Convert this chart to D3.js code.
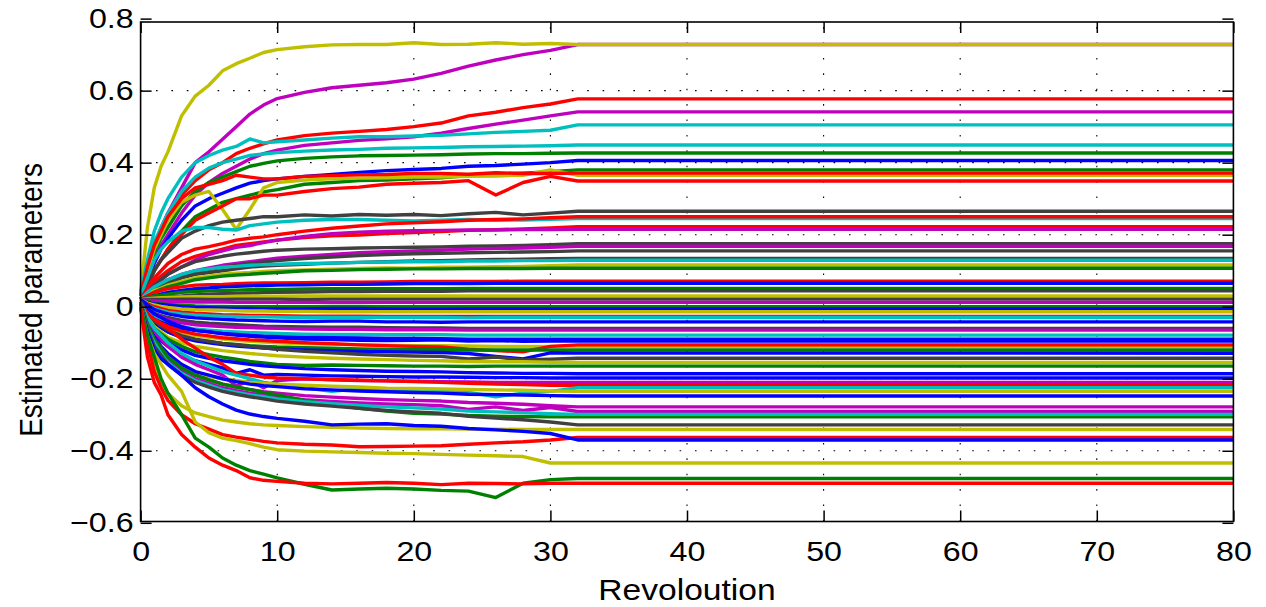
<!DOCTYPE html>
<html>
<head>
<meta charset="utf-8">
<script src="https://cdn.jsdelivr.net/npm/d3@7"></script>
<style>
  body { margin: 0; background: #fff; }
  svg text { font-family: "Liberation Sans", Arial, Helvetica, sans-serif; fill: #000; }
</style>
</head>
<body>
<svg id="chart" width="1266" height="607"></svg>
<script>
// Revolutions at which every estimate is recorded
const revolutions = [0, 0.5, 1, 1.5, 2, 3, 4, 5, 6, 7, 8, 9, 10, 12, 14, 16, 18, 20, 22, 24, 26, 28, 30, 32, 80];

// Axis limits and tick labels
const xLim = [0, 80];
const yLim = [-0.5964, 0.7906];
const xTicks = [0, 10, 20, 30, 40, 50, 60, 70, 80];
const yTicks = [-0.6, -0.4, -0.2, 0, 0.2, 0.4, 0.6, 0.8];

// MATLAB-style colour codes
const colorCodes = ["b", "g", "r", "c", "m", "y", "k"];
const colorValues = ["#0000ff", "#008000", "#ff0000", "#00bfbf", "#bf00bf", "#bfbf00", "#404040"];

// Estimated parameter trajectories (one array per parameter)
const p01 = [0.03,0.10,0.17,0.22,0.26,0.33,0.40,0.43,0.465,0.50,0.535,0.56,0.578,0.595,0.608,0.615,0.622,0.632,0.648,0.668,0.685,0.70,0.712,0.728,0.728];
const p02 = [0.04,0.22,0.33,0.39,0.43,0.53,0.585,0.615,0.655,0.675,0.69,0.706,0.714,0.722,0.727,0.728,0.728,0.733,0.728,0.729,0.733,0.729,0.731,0.728,0.728];
const p03 = [0.03,0.10,0.16,0.21,0.25,0.31,0.35,0.38,0.40,0.425,0.44,0.452,0.463,0.475,0.482,0.487,0.492,0.50,0.51,0.53,0.54,0.553,0.563,0.577,0.577];
const p04 = [0.03,0.08,0.13,0.17,0.20,0.26,0.31,0.345,0.37,0.39,0.41,0.425,0.435,0.448,0.455,0.462,0.466,0.472,0.482,0.495,0.507,0.518,0.53,0.541,0.541];
const p05 = [0.04,0.13,0.21,0.26,0.30,0.36,0.40,0.42,0.435,0.445,0.466,0.455,0.458,0.463,0.468,0.472,0.472,0.474,0.476,0.48,0.484,0.487,0.49,0.505,0.505];
const p06 = [0.03,0.11,0.18,0.22,0.26,0.32,0.36,0.385,0.40,0.41,0.42,0.424,0.428,0.432,0.435,0.437,0.44,0.441,0.442,0.444,0.445,0.446,0.447,0.449,0.449];
const p07 = [0.03,0.09,0.15,0.19,0.22,0.28,0.32,0.345,0.36,0.375,0.39,0.398,0.405,0.412,0.416,0.419,0.42,0.421,0.422,0.424,0.425,0.425,0.426,0.427,0.427];
const p08 = [0.03,0.07,0.12,0.16,0.19,0.24,0.28,0.30,0.315,0.33,0.343,0.35,0.355,0.362,0.367,0.373,0.378,0.381,0.384,0.39,0.392,0.396,0.40,0.406,0.406];
const p09 = [0.02,0.06,0.10,0.13,0.16,0.21,0.25,0.27,0.29,0.30,0.31,0.319,0.325,0.34,0.345,0.35,0.352,0.355,0.358,0.364,0.367,0.371,0.375,0.38,0.38];
const p10 = [0.03,0.10,0.16,0.20,0.24,0.29,0.31,0.32,0.27,0.215,0.27,0.33,0.345,0.352,0.355,0.357,0.358,0.36,0.36,0.362,0.363,0.365,0.38,0.365,0.365];
const p11 = [0.03,0.11,0.17,0.21,0.25,0.30,0.33,0.34,0.35,0.365,0.36,0.355,0.355,0.362,0.364,0.366,0.367,0.37,0.37,0.368,0.372,0.37,0.37,0.371,0.371];
const p12 = [0.02,0.06,0.10,0.13,0.16,0.20,0.24,0.26,0.28,0.30,0.30,0.31,0.31,0.32,0.328,0.332,0.34,0.343,0.345,0.35,0.31,0.345,0.362,0.349,0.349];
const p13 = [0.02,0.06,0.10,0.13,0.15,0.19,0.21,0.225,0.235,0.24,0.245,0.25,0.25,0.255,0.252,0.256,0.254,0.256,0.253,0.258,0.262,0.255,0.26,0.265,0.265];
const p14 = [0.03,0.08,0.13,0.16,0.18,0.21,0.22,0.22,0.215,0.213,0.225,0.23,0.235,0.24,0.242,0.242,0.24,0.238,0.24,0.242,0.24,0.241,0.243,0.245,0.245];
const p15 = [0.02,0.05,0.08,0.10,0.12,0.145,0.16,0.167,0.175,0.185,0.19,0.194,0.20,0.21,0.218,0.224,0.23,0.233,0.236,0.24,0.242,0.244,0.247,0.25,0.25];
const p16 = [0.02,0.05,0.07,0.085,0.10,0.125,0.14,0.15,0.16,0.17,0.175,0.18,0.185,0.192,0.197,0.199,0.203,0.206,0.209,0.212,0.214,0.216,0.219,0.222,0.222];
const p17 = [0.02,0.04,0.06,0.075,0.09,0.11,0.13,0.145,0.155,0.165,0.17,0.178,0.185,0.195,0.203,0.207,0.21,0.211,0.212,0.213,0.213,0.214,0.214,0.215,0.215];
const p18 = [0.02,0.04,0.06,0.075,0.09,0.11,0.125,0.133,0.14,0.146,0.15,0.154,0.157,0.16,0.161,0.163,0.164,0.165,0.166,0.168,0.169,0.17,0.172,0.175,0.175];
const p19 = [0.02,0.04,0.055,0.065,0.075,0.09,0.10,0.108,0.115,0.12,0.125,0.13,0.135,0.14,0.145,0.15,0.153,0.155,0.157,0.16,0.162,0.163,0.165,0.168,0.168];
const p20 = [0.02,0.035,0.05,0.06,0.07,0.085,0.095,0.103,0.11,0.115,0.12,0.124,0.128,0.134,0.138,0.142,0.145,0.147,0.148,0.15,0.151,0.152,0.153,0.155,0.155];
const p21 = [0.02,0.035,0.05,0.058,0.065,0.08,0.09,0.095,0.10,0.105,0.11,0.113,0.115,0.118,0.121,0.123,0.125,0.127,0.128,0.13,0.131,0.132,0.133,0.134,0.134];
const p22 = [0.02,0.04,0.055,0.065,0.075,0.09,0.10,0.105,0.11,0.112,0.115,0.117,0.118,0.12,0.121,0.123,0.124,0.125,0.125,0.127,0.127,0.128,0.128,0.129,0.129];
const p23 = [0.02,0.03,0.045,0.052,0.06,0.07,0.08,0.085,0.09,0.093,0.095,0.098,0.10,0.102,0.104,0.106,0.108,0.107,0.11,0.11,0.111,0.112,0.114,0.116,0.116];
const p24 = [0.02,0.03,0.04,0.048,0.055,0.065,0.075,0.08,0.085,0.088,0.09,0.093,0.095,0.10,0.101,0.103,0.104,0.105,0.105,0.106,0.106,0.106,0.107,0.107,0.107];
const p25 = [0.02,0.03,0.04,0.045,0.05,0.055,0.06,0.061,0.062,0.064,0.065,0.066,0.066,0.067,0.068,0.068,0.069,0.07,0.07,0.07,0.07,0.071,0.071,0.071,0.071];
const p26 = [0.02,0.025,0.03,0.035,0.04,0.045,0.05,0.052,0.055,0.057,0.058,0.059,0.06,0.061,0.062,0.062,0.063,0.064,0.064,0.064,0.065,0.065,0.065,0.065,0.065];
const p27 = [0.02,0.025,0.03,0.032,0.035,0.04,0.042,0.044,0.045,0.046,0.047,0.048,0.048,0.049,0.05,0.05,0.05,0.05,0.05,0.051,0.051,0.051,0.051,0.051,0.051];
const p28 = [0.02,0.022,0.025,0.027,0.028,0.03,0.033,0.035,0.036,0.037,0.038,0.039,0.04,0.041,0.042,0.042,0.043,0.043,0.043,0.044,0.044,0.044,0.044,0.044,0.044];
const p29 = [0.02,0.022,0.024,0.025,0.026,0.027,0.028,0.028,0.028,0.029,0.029,0.029,0.029,0.03,0.03,0.03,0.03,0.03,0.03,0.03,0.03,0.03,0.03,0.03,0.03];
const p30 = [0.02,0.02,0.02,0.02,0.02,0.021,0.021,0.02,0.02,0.021,0.021,0.021,0.021,0.02,0.021,0.021,0.021,0.021,0.021,0.021,0.021,0.021,0.021,0.021,0.021];
const p31 = [0.02,0.018,0.016,0.015,0.015,0.014,0.013,0.013,0.013,0.012,0.012,0.012,0.012,0.012,0.012,0.012,0.012,0.012,0.012,0.012,0.012,0.012,0.012,0.012,0.012];
const p32 = [0.02,0.015,0.01,0.008,0.006,0.004,0.002,0.001,0.001,0.0,0.0,0.0,0.0,0.0,0.001,0.001,0.0,0.0,0.0,0.0,0.0,0.0,0.0,0.0,0.0];
const p33 = [0.02,0.012,0.008,0.006,0.004,0.0,-0.002,-0.003,-0.004,-0.005,-0.005,-0.006,-0.006,-0.006,-0.005,-0.005,-0.006,-0.007,-0.007,-0.006,-0.006,-0.006,-0.006,-0.006,-0.006];
const p34 = [0.02,0.01,0.005,0.001,-0.002,-0.006,-0.008,-0.009,-0.01,-0.011,-0.012,-0.012,-0.013,-0.013,-0.014,-0.014,-0.014,-0.014,-0.014,-0.014,-0.014,-0.014,-0.014,-0.014,-0.014];
const p35 = [0.02,0.008,0.0,-0.005,-0.01,-0.015,-0.018,-0.02,-0.022,-0.023,-0.024,-0.024,-0.025,-0.026,-0.026,-0.026,-0.027,-0.027,-0.027,-0.027,-0.027,-0.027,-0.027,-0.027,-0.027];
const p36 = [0.02,0.005,-0.005,-0.01,-0.015,-0.02,-0.023,-0.025,-0.026,-0.027,-0.028,-0.028,-0.029,-0.03,-0.03,-0.03,-0.03,-0.03,-0.03,-0.031,-0.03,-0.03,-0.03,-0.03,-0.03];
const p37 = [0.02,0.005,-0.008,-0.014,-0.02,-0.027,-0.031,-0.033,-0.035,-0.037,-0.038,-0.039,-0.04,-0.041,-0.04,-0.04,-0.042,-0.042,-0.043,-0.042,-0.042,-0.042,-0.042,-0.042,-0.042];
const p38 = [0.015,-0.005,-0.018,-0.025,-0.03,-0.038,-0.043,-0.046,-0.048,-0.05,-0.052,-0.054,-0.055,-0.056,-0.057,-0.057,-0.058,-0.059,-0.059,-0.06,-0.06,-0.06,-0.06,-0.06,-0.06];
const p39 = [0.01,-0.01,-0.02,-0.028,-0.035,-0.045,-0.05,-0.053,-0.055,-0.057,-0.058,-0.059,-0.06,-0.062,-0.063,-0.063,-0.064,-0.064,-0.064,-0.065,-0.065,-0.065,-0.065,-0.065,-0.065];
const p40 = [0.01,-0.015,-0.03,-0.038,-0.045,-0.055,-0.062,-0.065,-0.068,-0.07,-0.072,-0.073,-0.074,-0.076,-0.077,-0.077,-0.078,-0.078,-0.078,-0.079,-0.079,-0.079,-0.079,-0.079,-0.079];
const p41 = [0.01,-0.02,-0.035,-0.043,-0.05,-0.06,-0.066,-0.07,-0.074,-0.077,-0.08,-0.082,-0.083,-0.085,-0.086,-0.087,-0.088,-0.088,-0.089,-0.09,-0.09,-0.09,-0.09,-0.09,-0.09];
const p42 = [0.015,-0.005,-0.02,-0.03,-0.04,-0.055,-0.065,-0.07,-0.075,-0.079,-0.082,-0.084,-0.086,-0.09,-0.091,-0.093,-0.094,-0.093,-0.092,-0.095,-0.094,-0.096,-0.095,-0.095,-0.095];
const p43 = [0.01,-0.02,-0.04,-0.05,-0.06,-0.072,-0.08,-0.085,-0.09,-0.093,-0.096,-0.098,-0.10,-0.103,-0.104,-0.106,-0.107,-0.108,-0.108,-0.109,-0.11,-0.11,-0.11,-0.11,-0.11];
const p44 = [0.01,-0.02,-0.035,-0.045,-0.055,-0.068,-0.076,-0.081,-0.086,-0.089,-0.092,-0.094,-0.096,-0.10,-0.103,-0.106,-0.108,-0.11,-0.112,-0.118,-0.122,-0.125,-0.11,-0.106,-0.106];
const p45 = [0.01,-0.025,-0.045,-0.058,-0.07,-0.085,-0.093,-0.098,-0.102,-0.105,-0.108,-0.11,-0.112,-0.114,-0.115,-0.117,-0.118,-0.118,-0.119,-0.12,-0.12,-0.12,-0.12,-0.12,-0.12];
const p46 = [0.01,-0.025,-0.045,-0.058,-0.07,-0.085,-0.095,-0.10,-0.105,-0.109,-0.112,-0.115,-0.117,-0.12,-0.122,-0.124,-0.125,-0.126,-0.127,-0.13,-0.138,-0.145,-0.128,-0.129,-0.129];
const p47 = [0.015,-0.02,-0.04,-0.053,-0.065,-0.08,-0.09,-0.096,-0.102,-0.106,-0.11,-0.114,-0.118,-0.124,-0.128,-0.132,-0.135,-0.137,-0.138,-0.145,-0.14,-0.148,-0.146,-0.143,-0.143];
const p48 = [0.01,-0.03,-0.055,-0.07,-0.085,-0.10,-0.11,-0.116,-0.122,-0.126,-0.13,-0.133,-0.136,-0.14,-0.143,-0.145,-0.147,-0.149,-0.15,-0.152,-0.153,-0.153,-0.154,-0.155,-0.155];
const p49 = [0.01,-0.035,-0.06,-0.075,-0.09,-0.11,-0.125,-0.133,-0.14,-0.146,-0.152,-0.156,-0.16,-0.163,-0.162,-0.163,-0.164,-0.165,-0.165,-0.166,-0.165,-0.165,-0.165,-0.165,-0.165];
const p50 = [0.01,-0.04,-0.07,-0.085,-0.10,-0.12,-0.135,-0.143,-0.15,-0.155,-0.16,-0.164,-0.167,-0.172,-0.175,-0.177,-0.179,-0.18,-0.181,-0.183,-0.184,-0.185,-0.185,-0.186,-0.186];
const p51 = [0.01,-0.04,-0.075,-0.095,-0.11,-0.135,-0.15,-0.16,-0.17,-0.185,-0.175,-0.19,-0.188,-0.19,-0.192,-0.193,-0.194,-0.195,-0.195,-0.196,-0.197,-0.197,-0.198,-0.198,-0.198];
const p52 = [0.01,-0.04,-0.07,-0.09,-0.11,-0.14,-0.16,-0.175,-0.19,-0.22,-0.205,-0.225,-0.205,-0.20,-0.203,-0.205,-0.206,-0.207,-0.208,-0.209,-0.21,-0.21,-0.21,-0.21,-0.21];
const p53 = [0.01,-0.02,-0.035,-0.048,-0.06,-0.09,-0.115,-0.14,-0.16,-0.185,-0.19,-0.195,-0.198,-0.20,-0.202,-0.204,-0.206,-0.208,-0.21,-0.213,-0.215,-0.216,-0.218,-0.219,-0.219];
const p54 = [0.01,-0.03,-0.06,-0.08,-0.10,-0.13,-0.15,-0.165,-0.18,-0.19,-0.20,-0.21,-0.215,-0.225,-0.235,-0.228,-0.232,-0.235,-0.234,-0.238,-0.25,-0.24,-0.235,-0.225,-0.225];
const p55 = [0.01,-0.05,-0.09,-0.115,-0.14,-0.17,-0.185,-0.193,-0.20,-0.205,-0.21,-0.213,-0.215,-0.218,-0.221,-0.223,-0.226,-0.227,-0.228,-0.23,-0.231,-0.232,-0.234,-0.235,-0.235];
const p56 = [0.01,-0.05,-0.085,-0.11,-0.13,-0.16,-0.18,-0.19,-0.20,-0.208,-0.215,-0.219,-0.222,-0.228,-0.231,-0.234,-0.236,-0.238,-0.24,-0.243,-0.244,-0.245,-0.247,-0.248,-0.248];
const p57 = [0.01,-0.05,-0.09,-0.115,-0.14,-0.17,-0.19,-0.203,-0.215,-0.223,-0.23,-0.236,-0.24,-0.247,-0.251,-0.255,-0.258,-0.26,-0.262,-0.266,-0.268,-0.271,-0.275,-0.278,-0.278];
const p58 = [0.01,-0.06,-0.10,-0.125,-0.15,-0.18,-0.20,-0.213,-0.225,-0.233,-0.24,-0.245,-0.25,-0.258,-0.263,-0.267,-0.27,-0.272,-0.275,-0.285,-0.278,-0.288,-0.28,-0.291,-0.291];
const p59 = [0.01,-0.05,-0.09,-0.115,-0.14,-0.17,-0.19,-0.203,-0.215,-0.223,-0.23,-0.238,-0.245,-0.26,-0.272,-0.282,-0.29,-0.296,-0.298,-0.302,-0.304,-0.305,-0.306,-0.306,-0.306];
const p60 = [0.01,-0.06,-0.10,-0.13,-0.155,-0.185,-0.205,-0.218,-0.23,-0.238,-0.245,-0.25,-0.256,-0.264,-0.269,-0.274,-0.278,-0.281,-0.284,-0.29,-0.292,-0.294,-0.297,-0.299,-0.299];
const p61 = [0.01,-0.06,-0.11,-0.135,-0.16,-0.19,-0.21,-0.223,-0.235,-0.243,-0.25,-0.256,-0.262,-0.27,-0.276,-0.282,-0.288,-0.292,-0.296,-0.304,-0.309,-0.314,-0.32,-0.328,-0.328];
const p62 = [0.0,-0.10,-0.17,-0.21,-0.24,-0.275,-0.295,-0.305,-0.315,-0.32,-0.325,-0.328,-0.33,-0.333,-0.335,-0.337,-0.338,-0.339,-0.339,-0.34,-0.34,-0.341,-0.341,-0.341,-0.341];
const p63 = [0.0,-0.10,-0.18,-0.225,-0.26,-0.30,-0.325,-0.34,-0.355,-0.362,-0.368,-0.374,-0.378,-0.382,-0.384,-0.389,-0.388,-0.387,-0.386,-0.382,-0.378,-0.375,-0.37,-0.363,-0.363];
const p64 = [0.0,-0.07,-0.12,-0.145,-0.16,-0.19,-0.225,-0.25,-0.27,-0.287,-0.298,-0.305,-0.31,-0.318,-0.328,-0.326,-0.325,-0.33,-0.332,-0.338,-0.342,-0.346,-0.352,-0.37,-0.37];
const p65 = [0.0,-0.08,-0.13,-0.16,-0.19,-0.235,-0.32,-0.35,-0.365,-0.372,-0.38,-0.39,-0.397,-0.401,-0.403,-0.405,-0.407,-0.408,-0.41,-0.412,-0.414,-0.416,-0.434,-0.434,-0.434];
const p66 = [0.0,-0.08,-0.14,-0.20,-0.24,-0.30,-0.365,-0.39,-0.42,-0.44,-0.455,-0.465,-0.475,-0.493,-0.509,-0.506,-0.504,-0.506,-0.51,-0.512,-0.53,-0.49,-0.48,-0.477,-0.477];
const p67 = [0.0,-0.14,-0.21,-0.245,-0.30,-0.355,-0.39,-0.42,-0.44,-0.455,-0.475,-0.482,-0.485,-0.49,-0.492,-0.49,-0.488,-0.49,-0.494,-0.49,-0.491,-0.492,-0.49,-0.49,-0.49];

const parameters = [p01,p02,p03,p04,p05,p06,p07,p08,p09,p10,p11,p12,p13,p14,p15,p16,p17,p18,p19,p20,
  p21,p22,p23,p24,p25,p26,p27,p28,p29,p30,p31,p32,p33,p34,p35,p36,p37,p38,p39,p40,
  p41,p42,p43,p44,p45,p46,p47,p48,p49,p50,p51,p52,p53,p54,p55,p56,p57,p58,p59,p60,
  p61,p62,p63,p64,p65,p66,p67];
const parameterColors = ["m","y","r","m","c","c","g","b","g","y","r","r","k","c","r","r","m","k","m","k",
  "k","c","y","g","r","b","g","k","y","k","m","g","b","y","r","c","b","k","m","c",
  "b","b","y","r","g","b","k","y","g","b","b","m","r","c","y","b","m","m","g","c",
  "k","y","r","b","y","g","r"];

const svg = d3.select("#chart");
const frame = { left: 140.6, right: 1233.4, top: 22, bottom: 521.5 };
const stretch = 1.15; // horizontal stretch of the lettering

const x = d3.scaleLinear().domain(xLim).range([frame.left, frame.right]);
const y = d3.scaleLinear().domain(yLim).range([frame.bottom, frame.top]);
const colour = d3.scaleOrdinal().domain(colorCodes).range(colorValues);

// Dotted grid
const grid = svg.append("g").attr("stroke", "#000").attr("stroke-width", 1.1)
  .attr("stroke-dasharray", "1.6 13.8").attr("fill", "none");
grid.selectAll("line.h").data(yTicks.filter(v => y(v) > frame.top && y(v) < frame.bottom))
  .join("line").attr("class", "h")
  .attr("x1", frame.left).attr("x2", frame.right)
  .attr("y1", d => y(d)).attr("y2", d => y(d));
grid.selectAll("line.v").data(xTicks.filter(v => v > xLim[0] && v < xLim[1]))
  .join("line").attr("class", "v")
  .attr("x1", d => x(d)).attr("x2", d => x(d))
  .attr("y1", frame.bottom).attr("y2", frame.top);

// Parameter trajectories
const line = d3.line().x((d, i) => x(revolutions[i])).y(d => y(d));
svg.append("g").attr("fill", "none").attr("stroke-width", 3.4)
  .attr("stroke-linejoin", "round")
  .selectAll("path").data(parameters).join("path")
  .attr("stroke", (d, i) => colour(parameterColors[i]))
  .attr("d", line);

// Axes with inward ticks on all four sides
const fmtX = d => d3.format("d")(d);
const fmtY = d => d === 0 ? "0" : d3.format(".1f")(d);
const axisStyle = g => {
  g.select(".domain").remove();
  g.selectAll(".tick line").attr("stroke", "#000").attr("stroke-width", 1.5);
  g.selectAll(".tick text").attr("font-size", 28).attr("fill", "#000")
    .attr("font-family", "'Liberation Sans', Arial, sans-serif");
};
svg.append("g").attr("transform", `translate(0,${frame.bottom})`)
  .call(d3.axisBottom(x).tickValues(xTicks).tickSize(-11).tickPadding(20).tickFormat(fmtX))
  .call(axisStyle)
  .call(g => g.selectAll(".tick text").attr("dy", "0.71em")
    .attr("transform", `scale(${stretch},1)`));
svg.append("g").attr("transform", `translate(0,${frame.top})`)
  .call(d3.axisTop(x).tickValues(xTicks).tickSize(-11).tickFormat(""))
  .call(axisStyle);
svg.append("g").attr("transform", `translate(${frame.left},0)`)
  .call(d3.axisLeft(y).tickValues(yTicks).tickSize(-11).tickFormat(fmtY))
  .call(axisStyle)
  .call(g => g.selectAll(".tick text").attr("x", -7 / stretch)
    .attr("transform", `scale(${stretch},1)`));
svg.append("g").attr("transform", `translate(${frame.right},0)`)
  .call(d3.axisRight(y).tickValues(yTicks).tickSize(-11).tickFormat(""))
  .call(axisStyle);

// Box
svg.append("rect")
  .attr("x", frame.left).attr("y", frame.top)
  .attr("width", frame.right - frame.left).attr("height", frame.bottom - frame.top)
  .attr("fill", "none").attr("stroke", "#000").attr("stroke-width", 1.6);

// Axis labels
svg.append("text")
  .attr("transform", `translate(${(frame.left + frame.right) / 2},600) scale(1.12,1)`)
  .attr("text-anchor", "middle").attr("font-size", 30)
  .text("Revoloution");
svg.append("text")
  .attr("transform", `translate(42,300) scale(${stretch},1) rotate(-90)`)
  .attr("text-anchor", "middle").attr("font-size", 28)
  .text("Estimated parameters");
</script>
</body>
</html>
